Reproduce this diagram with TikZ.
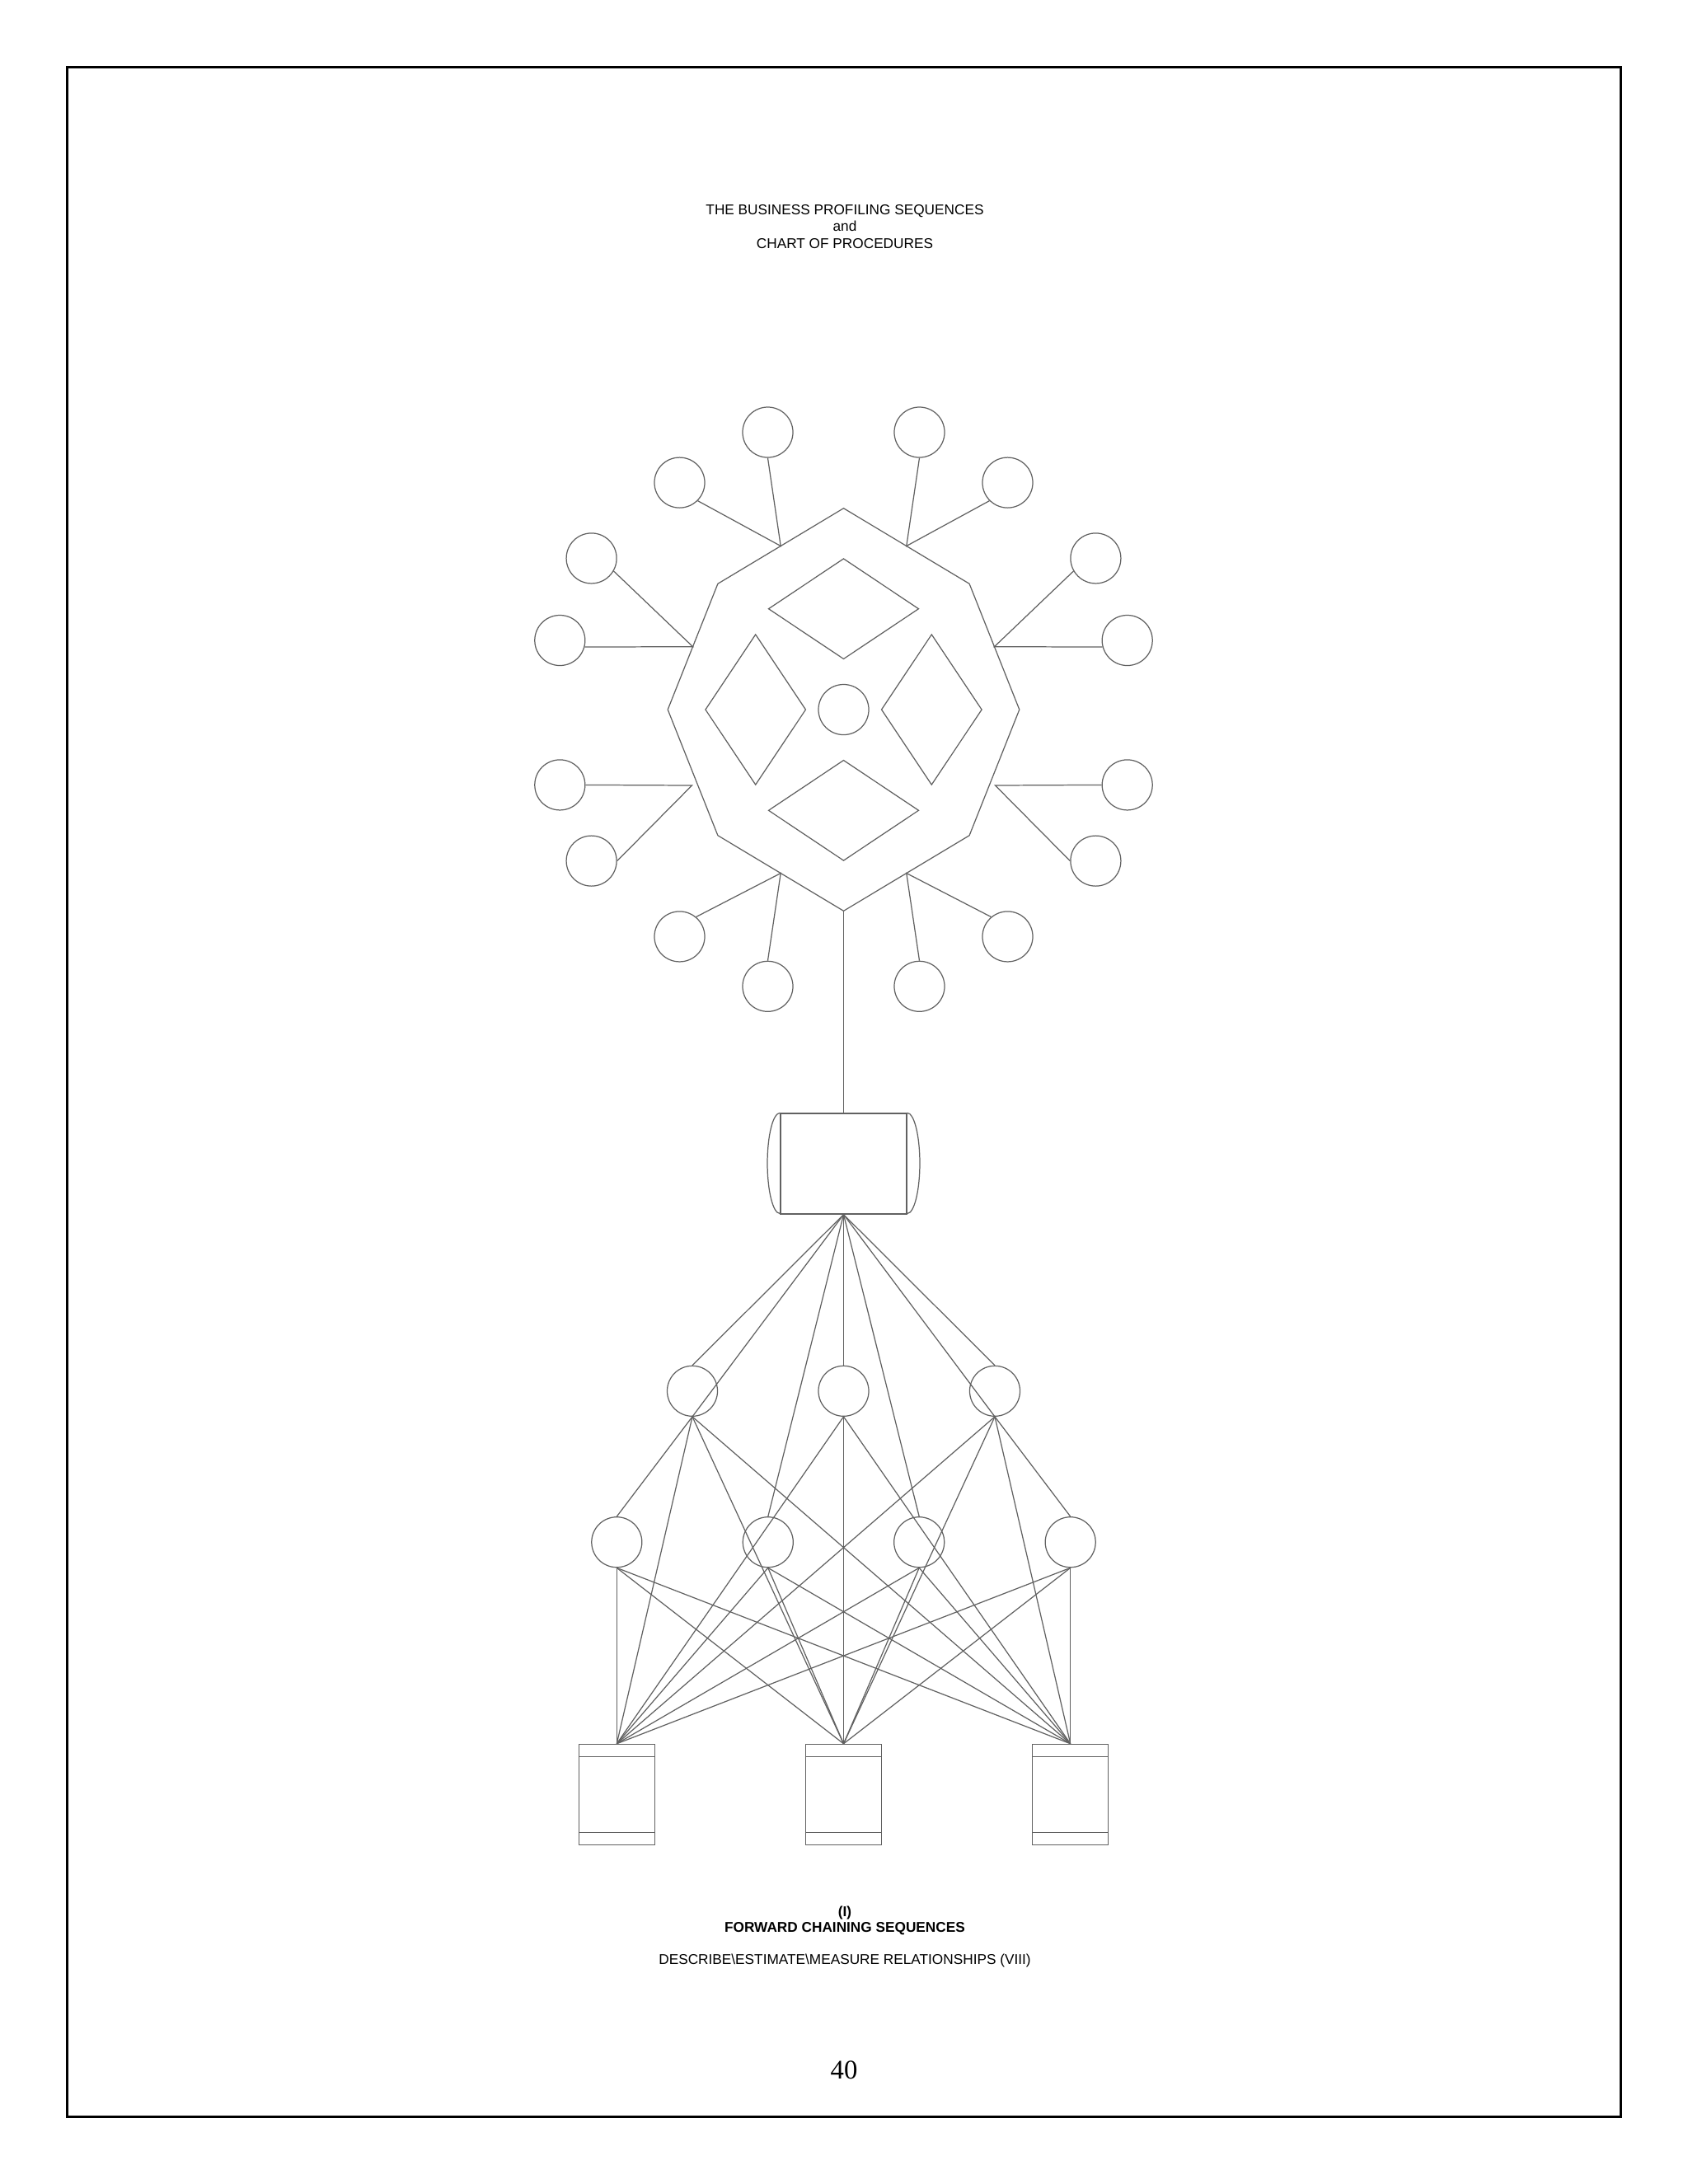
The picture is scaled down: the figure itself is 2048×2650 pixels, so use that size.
\documentclass[tikz,border=0pt]{standalone}
\usepackage{fontspec}
\setmainfont{Liberation Sans}
\newfontfamily\numfont{Liberation Serif}
\usetikzlibrary{shapes.geometric,calc}

\begin{document}
\begin{tikzpicture}[x=0.01cm,y=-0.01cm]
    \tikzstyle{every node}=[inner sep=0pt]
    \tikzstyle{ln}=[draw=black!62, line width=0.35pt]
    \tikzstyle{bubble}=[circle, ln, minimum size=0.61cm]
    \tikzstyle{gem}=[diamond, ln, minimum width=1.824cm, minimum height=1.22cm]
    \tikzstyle{tallgem}=[diamond, ln, minimum width=1.22cm, minimum height=1.826cm]
    \tikzstyle{store}=[rectangle, ln, minimum width=0.92cm, minimum height=1.22cm]
    \tikzstyle{caption}=[font=\fontsize{4.9}{5.9}\selectfont, anchor=base]
    \tikzstyle{heading}=[caption, font=\fontsize{4.9}{5.9}\selectfont\bfseries]

    \useasboundingbox (0,0) rectangle (2048,2650);
    \draw[line width=0.6pt] (81.5,81.5) rectangle (1966.5,2568.5);

    % title
    \node[caption] (title1) at (1025,260) {THE BUSINESS PROFILING SEQUENCES};
    \node[caption] (title2) at (1025,280) {and};
    \node[caption] (title3) at (1025,301) {CHART OF PROCEDURES};

    % octagon
    \coordinate (T) at (1023.5,616.7);
    \coordinate (UL) at (870.9,708.3);
    \coordinate (L) at (810.2,861);
    \coordinate (LL) at (870.9,1013.7);
    \coordinate (B) at (1023.5,1105.3);
    \coordinate (LR) at (1176.1,1013.7);
    \coordinate (R) at (1236.8,861);
    \coordinate (UR) at (1176.1,708.3);
    \draw[ln] (T) -- (UR) -- (R) -- (LR) -- (B) -- (LL) -- (L) -- (UL) -- cycle;

    \coordinate (j1) at ($(T)!0.5!(UL)$);
    \coordinate (j2) at ($(UL)!0.5!(L)$);
    \coordinate (j3) at (839.5,953);
    \coordinate (j4) at ($(LL)!0.5!(B)$);
    \coordinate (k1) at ($(T)!0.5!(UR)$);
    \coordinate (k2) at ($(UR)!0.5!(R)$);
    \coordinate (k3) at (1207.5,953);
    \coordinate (k4) at ($(LR)!0.5!(B)$);

    \node[bubble] (hub) at (1023.5,861) {};
    \node[gem] (gtop) at (1023.5,738.7) {};
    \node[gem] (gbot) at (1023.5,983.3) {};
    \node[tallgem] (gleft) at (916.7,861) {};
    \node[tallgem] (gright) at (1130.3,861) {};

    % outer circles
    \node[bubble] (a1) at (931.5,524.5) {};
    \node[bubble] (a2) at (824.5,585.6) {};
    \node[bubble] (a3) at (717.6,677.4) {};
    \node[bubble] (a4) at (679.3,777) {};
    \node[bubble] (a5) at (679.3,952.4) {};
    \node[bubble] (a6) at (717.6,1044.6) {};
    \node[bubble] (a7) at (824.5,1136.4) {};
    \node[bubble] (a8) at (931.5,1196.8) {};
    \node[bubble] (b1) at (1115.5,524.5) {};
    \node[bubble] (b2) at (1222.5,585.6) {};
    \node[bubble] (b3) at (1329.4,677.4) {};
    \node[bubble] (b4) at (1367.7,777) {};
    \node[bubble] (b5) at (1367.7,952.4) {};
    \node[bubble] (b6) at (1329.4,1044.6) {};
    \node[bubble] (b7) at (1222.5,1136.4) {};
    \node[bubble] (b8) at (1115.5,1196.8) {};

    \draw[ln] (a1.south) -- (j1) -- (a2.-45);
    \draw[ln] (a3.-30) -- (j2) -- (a4.-15);
    \draw[ln] (a5.east) -- (j3) -- (a6.east);
    \draw[ln] (a7.50) -- (j4) -- (a8.north);
    \draw[ln] (b1.south) -- (k1) -- (b2.-135);
    \draw[ln] (b3.-150) -- (k2) -- (b4.-165);
    \draw[ln] (b5.west) -- (k3) -- (b6.west);
    \draw[ln] (b7.130) -- (k4) -- (b8.north);

    % disk
    \node[rectangle, ln, minimum width=1.53cm, minimum height=1.22cm] (disk) at (1023.5,1412) {};
    \draw[ln] (B) -- (disk.north);
    \draw[ln] (disk.north west) arc[start angle=90, end angle=270, x radius=0.153cm, y radius=0.61cm];
    \draw[ln] (disk.north east) arc[start angle=90, end angle=-90, x radius=0.153cm, y radius=0.61cm];

    % network
    \node[bubble] (n1) at (840,1687.8) {};
    \node[bubble] (n2) at (1023.5,1687.8) {};
    \node[bubble] (n3) at (1207,1687.8) {};
    \node[bubble] (m1) at (748.3,1871.2) {};
    \node[bubble] (m2) at (931.8,1871.2) {};
    \node[bubble] (m3) at (1115.2,1871.2) {};
    \node[bubble] (m4) at (1298.7,1871.2) {};
    \node[store] (s1) at (748.3,2177.4) {};
    \node[store] (s2) at (1023.5,2177.4) {};
    \node[store] (s3) at (1298.7,2177.4) {};
    \foreach \s in {s1,s2,s3} {
        \draw[ln] ([yshift=-0.157cm]\s.north west) -- ([yshift=-0.157cm]\s.north east);
        \draw[ln] ([yshift=0.154cm]\s.south west) -- ([yshift=0.154cm]\s.south east);
    }

    \foreach \t in {n1.north,n1.south,n2.north,n3.north,n3.south,m2.north,m3.north}
        \draw[ln] (disk.south) -- (\t);
    \draw[ln] (n1.south) -- (m1.north);
    \draw[ln] (n3.south) -- (m4.north);
    \foreach \f in {n1,n2,n3,m1,m2,m3,m4}
        \foreach \s in {s1,s2,s3}
            \draw[ln] (\f.south) -- (\s.north);

    % captions
    \node[heading] (part) at (1025,2325) {(I)};
    \node[heading] (chain) at (1025,2344) {FORWARD CHAINING SEQUENCES};
    \node[caption] (rel) at (1025,2383) {DESCRIBE\textbackslash ESTIMATE\textbackslash MEASURE RELATIONSHIPS (VIII)};
    \node[anchor=base, font=\numfont\fontsize{9.3}{11}\selectfont] (pageno) at (1024,2522) {40};
\end{tikzpicture}
\end{document}
